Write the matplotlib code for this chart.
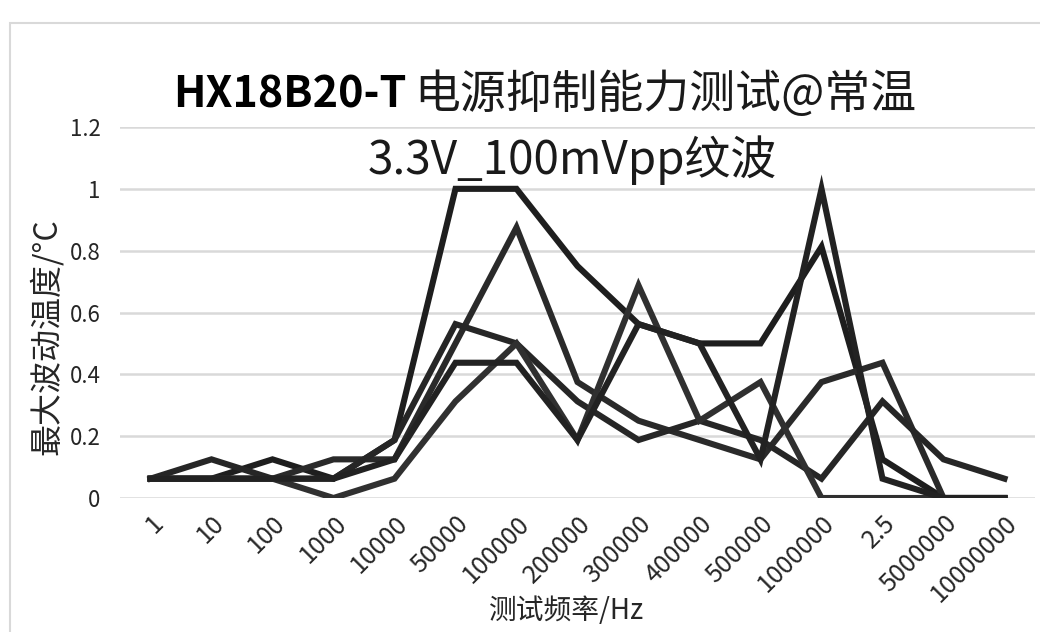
import matplotlib
matplotlib.use('Agg')
import matplotlib.pyplot as plt
from matplotlib.patches import Rectangle

plt.rcParams['font.family'] = ['Noto Sans CJK SC', 'DejaVu Sans']

# test frequencies (category axis, as labelled in the source chart)
freqs = ['1', '10', '100', '1000', '10000', '50000', '100000', '200000',
         '300000', '400000', '500000', '1000000', '2.5', '5000000', '10000000']

# max temperature fluctuation (degC) for five samples
s1 = [0.0625, 0.0625, 0.125, 0.0625, 0.1875, 1.0, 1.0, 0.75, 0.5625, 0.5,
      0.5, 0.8125, 0.125, 0, 0]
s2 = [0.0625, 0.0625, 0.0625, 0.125, 0.125, 0.5, 0.875, 0.375, 0.25, 0.1875,
      0.125, 0.375, 0.4375, 0, 0]
s3 = [0.0625, 0.125, 0.0625, 0.0625, 0.1875, 0.5625, 0.5, 0.3125, 0.1875, 0.25,
      0.1875, 0.0625, 0.3125, 0.125, 0.0625]
s4 = [0.0625, 0.0625, 0.0625, 0, 0.0625, 0.3125, 0.5, 0.1875, 0.6875, 0.25,
      0.375, 0, 0, 0, 0]
s5 = [0.0625, 0.0625, 0.0625, 0.0625, 0.125, 0.4375, 0.4375, 0.1875, 0.5625, 0.5,
      0.125, 1.0, 0.0625, 0, 0]

yticks = [0, 0.2, 0.4, 0.6, 0.8, 1.0, 1.2]
ylabels = ['0', '0.2', '0.4', '0.6', '0.8', '1', '1.2']

W, H = 1040, 632
fig = plt.figure(figsize=(W / 100, H / 100), dpi=100)
ax = fig.add_axes([120 / W, 1 - 498 / H, (1035 - 120) / W, (498 - 127) / H])

# chart area border
fig.patches.append(Rectangle((10 / W, -0.1), 1.2, 1 - 23 / H + 0.1,
                             transform=fig.transFigure, fill=False,
                             edgecolor='#d9d9d9', linewidth=1.5))

x = range(len(freqs))
colors = ['#1e1e1e', '#2a2a2a', '#262626', '#303030', '#222222']
for s, c in zip([s1, s2, s3, s4, s5], colors):
    ax.plot(x, s, color=c, linewidth=4.4, solid_joinstyle='miter', zorder=3)

ax.set_xlim(-0.5, len(freqs) - 0.5)
ax.set_ylim(0, 1.2)
ax.set_yticks(yticks)
ax.set_yticklabels(ylabels, fontsize=16, color='#262626')
ax.set_xticks(list(x))
ax.set_xticklabels(freqs, fontsize=18, color='#262626', rotation=45,
                   ha='right', va='top', rotation_mode='anchor')
ax.tick_params(length=0)
ax.tick_params('y', pad=14)
ax.tick_params('x', pad=9)
ax.grid(True, axis='y', color='#d9d9d9', linewidth=1.8, zorder=0)
for sp in ax.spines.values():
    sp.set_visible(False)

fig.text(46 / W, 1 - 337 / H, '最大波动温度/°C', rotation=90, fontsize=23,
         color='#262626', ha='center', va='center')
fig.text(567 / W, 1 - 611 / H, '测试频率/Hz', fontsize=20, color='#262626',
         ha='center', va='center')

# two-part title, centred as a whole
t1 = fig.text(0, 1 - 95 / H, 'HX18B20-T', fontsize=31, fontweight='bold',
              color='black', ha='left', va='center')
t2 = fig.text(0, 1 - 95 / H, '电源抑制能力测试@常温', fontsize=33,
              color='#1a1a1a', ha='left', va='center')
t3 = fig.text(572 / W, 1 - 160 / H, '3.3V_100mVpp纹波', fontsize=33,
              color='#1a1a1a', ha='center', va='center')
fig.canvas.draw()
r = fig.canvas.get_renderer()
w1 = t1.get_window_extent(r).width
w2 = t2.get_window_extent(r).width
gap = 8
start = 545 - (w1 + gap + w2) / 2
t1.set_x(start / W)
t2.set_x((start + w1 + gap) / W)

fig.savefig('out.png', dpi=100)
